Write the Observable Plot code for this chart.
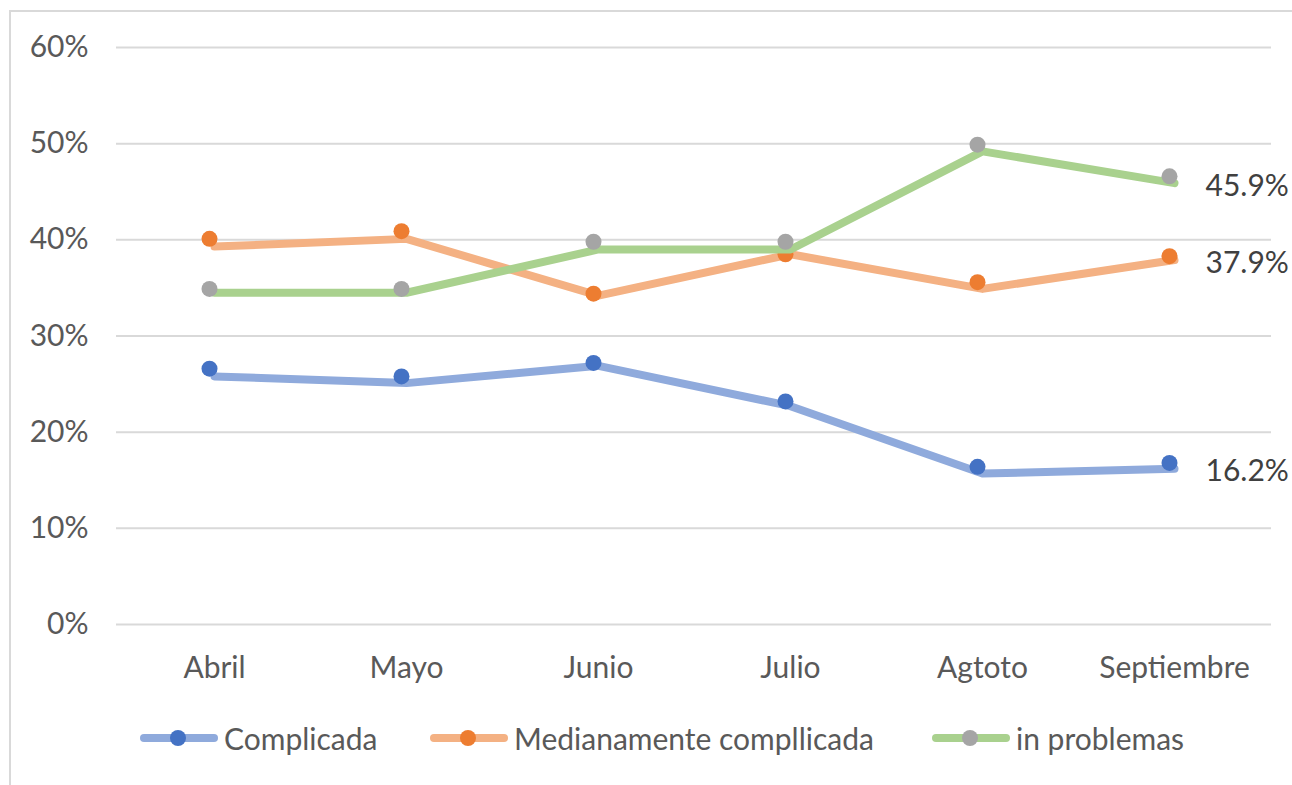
<!DOCTYPE html>
<html>
<head>
<meta charset="utf-8">
<script src="https://cdn.jsdelivr.net/npm/d3@7"></script>
<script src="https://cdn.jsdelivr.net/npm/@observablehq/plot@0.6"></script>
<style>
  html, body { margin: 0; padding: 0; background: #fff; }
  body { width: 1292px; height: 785px; overflow: hidden; position: relative; font-family: Lato, "Open Sans", sans-serif; }
  #frame { position: absolute; left: 9px; top: 10px; width: 1400px; height: 900px; border: 2px solid #d9d9d9; box-sizing: border-box; }
  #chart { position: absolute; left: 0; top: 0; }
  .leg { position: absolute; top: 720px; display: flex; align-items: center; font-size: 30px; color: #595959; white-space: nowrap; }
  .leg svg { margin-right: 6px; }
</style>
</head>
<body>
<div id="frame"></div>
<div id="chart"></div>
<div id="legend"></div>
<script>
const months = ["Abril", "Mayo", "Junio", "Julio", "Agtoto", "Septiembre"];
const seriesNames = ["Complicada", "Medianamente compllicada", "in problemas"];
const complicadaLine = [25.8, 25.1, 26.9, 22.7, 15.7, 16.2];
const complicadaDots = [26.6, 25.8, 27.2, 23.2, 16.4, 16.8];
const medianamenteLine = [39.3, 40.1, 34.2, 38.5, 34.9, 37.9];
const medianamenteDots = [40.1, 40.9, 34.4, 38.5, 35.6, 38.3];
const problemasLine = [34.5, 34.5, 39.0, 39.0, 49.2, 45.9];
const problemasDots = [34.9, 34.9, 39.8, 39.8, 49.9, 46.6];
const yTicks = [0, 10, 20, 30, 40, 50, 60];
const lineColors = ["#8faadc", "#f4b183", "#a9d18e"];
const dotColors = ["#4472c4", "#ed7d31", "#a5a5a5"];

const lines = [complicadaLine, medianamenteLine, problemasLine];
const dots = [complicadaDots, medianamenteDots, problemasDots];

const marks = [
  Plot.gridY(yTicks, {stroke: "#d9d9d9", strokeOpacity: 1, strokeWidth: 2}),
  Plot.axisY(yTicks, {tickSize: 0, tickPadding: 28, tickFormat: d => d + "%", fontSize: 30, fill: "#595959"}),
  Plot.axisX({tickSize: 0, tickPadding: 32, fontSize: 30, fill: "#595959"})
];
seriesNames.forEach((name, s) => {
  const lineData = months.map((m, i) => ({month: m, value: lines[s][i]}));
  const dotData = months.map((m, i) => ({month: m, value: dots[s][i]}));
  marks.push(Plot.line(lineData, {x: "month", y: "value", stroke: lineColors[s], strokeWidth: 8, strokeLinecap: "round", strokeLinejoin: "round"}));
  marks.push(Plot.dot(dotData, {x: "month", y: "value", r: 8, fill: dotColors[s], stroke: null, dx: -5}));
  marks.push(Plot.text([lineData[lineData.length - 1]], {x: "month", y: "value", text: d => d.value.toFixed(1) + "%", textAnchor: "start", dx: 31, dy: 3, fontSize: 30, fill: "#404040"}));
});

const chart = Plot.plot({
  width: 1292,
  height: 700,
  marginLeft: 116,
  marginRight: 21,
  marginTop: 47,
  marginBottom: 76,
  style: {fontFamily: "Lato, 'Open Sans', sans-serif", background: "transparent", color: "#595959", overflow: "visible"},
  x: {type: "point", domain: months, padding: 0.5, label: null},
  y: {domain: [0, 60], label: null},
  marks
});
document.getElementById("chart").appendChild(chart);

const legendLefts = [140, 430, 932];
const legend = document.getElementById("legend");
seriesNames.forEach((name, s) => {
  const item = document.createElement("div");
  item.className = "leg";
  item.style.left = legendLefts[s] + "px";
  item.innerHTML = `<svg width="78" height="34"><line x1="4" y1="17" x2="74" y2="17" stroke="${lineColors[s]}" stroke-width="8" stroke-linecap="round"/><circle cx="38" cy="17" r="8" fill="${dotColors[s]}"/></svg><span>${name}</span>`;
  legend.appendChild(item);
});
</script>
</body>
</html>
